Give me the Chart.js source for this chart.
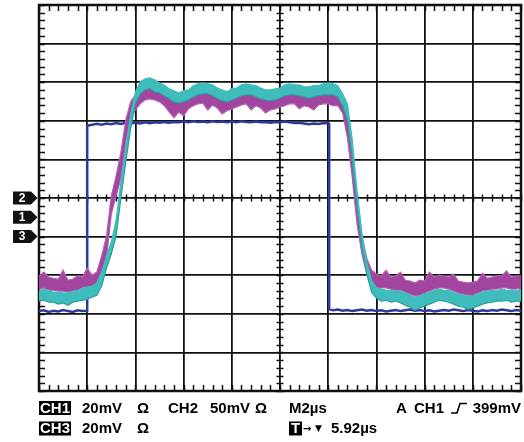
<!DOCTYPE html>
<html>
<head>
<meta charset="utf-8">
<script src="https://cdn.jsdelivr.net/npm/chart.js@4.4.1/dist/chart.umd.min.js"></script>
<style>
  html, body { margin: 0; padding: 0; background: #fff; }
  #wrap { width: 524px; height: 442px; position: relative; }
  canvas { display: block; }
</style>
</head>
<body>
<div id="wrap"><canvas id="scope" width="524" height="442"></canvas></div>
<script>
// Sample times (µs) for CH1 / CH2, 0.2 µs apart across 10 divisions of 2 µs
const sampleTimesUs = [
  0, 0.2, 0.4, 0.6, 0.8, 1, 1.2, 1.4, 1.6, 1.8,
  2, 2.2, 2.4, 2.6, 2.8, 3, 3.2, 3.4, 3.6, 3.8,
  4, 4.2, 4.4, 4.6, 4.8, 5, 5.2, 5.4, 5.6, 5.8,
  6, 6.2, 6.4, 6.6, 6.8, 7, 7.2, 7.4, 7.6, 7.8,
  8, 8.2, 8.4, 8.6, 8.8, 9, 9.2, 9.4, 9.6, 9.8,
  10, 10.2, 10.4, 10.6, 10.8, 11, 11.2, 11.4, 11.6, 11.8,
  12, 12.2, 12.4, 12.6, 12.8, 13, 13.2, 13.4, 13.6, 13.8,
  14, 14.2, 14.4, 14.6, 14.8, 15, 15.2, 15.4, 15.6, 15.8,
  16, 16.2, 16.4, 16.6, 16.8, 17, 17.2, 17.4, 17.6, 17.8,
  18, 18.2, 18.4, 18.6, 18.8, 19, 19.2, 19.4, 19.6, 19.8,
  20
];

// CH1 (magenta) noise envelope, screen divisions from centre
const ch1Upper = [
  -2.02, -1.92, -2.05, -2.08, -2.10, -1.87, -2.13, -2.10, -2.02, -2.05,
  -1.82, -2.00, -1.92, -1.50, -0.99, 0.05, 0.57, 1.19, 2.02, 2.49,
  2.67, 2.80, 2.88, 2.91, 2.88, 2.83, 2.75, 2.67, 2.59, 2.57,
  2.59, 2.65, 2.72, 2.78, 2.80, 2.80, 2.75, 2.67, 2.62, 2.59,
  2.65, 2.70, 2.75, 2.78, 2.78, 2.72, 2.67, 2.65, 2.62, 2.65,
  2.70, 2.75, 2.78, 2.80, 2.75, 2.72, 2.70, 2.72, 2.75, 2.78,
  2.78, 2.80, 2.72, 2.57, 2.08, 1.04, -0.18, -0.99, -1.56, -1.87,
  -1.97, -2.02, -1.87, -2.05, -2.02, -1.92, -2.13, -2.15, -2.20, -2.13,
  -2.15, -1.92, -2.05, -2.00, -2.02, -2.05, -1.97, -2.15, -2.18, -2.20,
  -2.18, -2.15, -1.95, -2.08, -2.05, -2.02, -2.02, -1.89, -2.05, -2.02,
  -2.02
];
const ch1Lower = [
  -2.36, -2.33, -2.39, -2.39, -2.41, -2.41, -2.44, -2.41, -2.39, -2.36,
  -2.33, -2.31, -2.28, -1.97, -1.56, -0.42, 0.05, 0.52, 1.45, 2.08,
  2.28, 2.44, 2.54, 2.57, 2.54, 2.49, 2.39, 2.23, 2.08, 2.23,
  2.13, 2.31, 2.39, 2.44, 2.46, 2.28, 2.41, 2.33, 2.18, 2.26,
  2.31, 2.36, 2.41, 2.44, 2.28, 2.39, 2.33, 2.20, 2.28, 2.31,
  2.36, 2.39, 2.44, 2.44, 2.31, 2.39, 2.36, 2.28, 2.41, 2.44,
  2.44, 2.39, 2.39, 2.20, 1.56, 0.52, -0.70, -1.45, -1.97, -2.23,
  -2.33, -2.33, -2.33, -2.36, -2.39, -2.39, -2.44, -2.49, -2.54, -2.52,
  -2.46, -2.41, -2.36, -2.33, -2.33, -2.36, -2.41, -2.46, -2.49, -2.52,
  -2.52, -2.46, -2.41, -2.39, -2.36, -2.36, -2.33, -2.33, -2.36, -2.36,
  -2.33
];

// CH2 (cyan) noise envelope, screen divisions from centre
const ch2Upper = [
  -2.41, -2.36, -2.39, -2.44, -2.44, -2.46, -2.46, -2.41, -2.41, -2.33,
  -2.31, -2.28, -2.20, -1.92, -1.50, -1.14, -0.57, 0.42, 1.30, 2.15,
  2.75, 3.01, 3.09, 3.11, 3.06, 2.98, 2.93, 2.83, 2.78, 2.72,
  2.78, 2.80, 2.91, 2.96, 2.98, 2.96, 2.93, 2.85, 2.80, 2.75,
  2.83, 2.85, 2.93, 2.96, 2.93, 2.91, 2.85, 2.80, 2.80, 2.83,
  2.85, 2.93, 2.96, 2.93, 2.93, 2.88, 2.88, 2.91, 2.91, 2.96,
  2.98, 2.96, 2.91, 2.70, 2.44, 1.50, 0.16, -0.91, -1.66, -2.13,
  -2.33, -2.36, -2.39, -2.39, -2.41, -2.41, -2.46, -2.52, -2.57, -2.54,
  -2.49, -2.44, -2.39, -2.36, -2.39, -2.39, -2.44, -2.49, -2.52, -2.54,
  -2.54, -2.49, -2.44, -2.41, -2.39, -2.41, -2.36, -2.39, -2.39, -2.41,
  -2.36
];
const ch2Lower = [
  -2.67, -2.65, -2.70, -2.70, -2.75, -2.72, -2.78, -2.70, -2.67, -2.65,
  -2.62, -2.57, -2.52, -2.28, -1.82, -1.45, -0.99, 0.00, 0.93, 1.79,
  2.44, 2.70, 2.80, 2.83, 2.75, 2.72, 2.65, 2.57, 2.49, 2.46,
  2.49, 2.54, 2.62, 2.67, 2.70, 2.70, 2.65, 2.57, 2.52, 2.49,
  2.54, 2.59, 2.65, 2.67, 2.67, 2.62, 2.57, 2.54, 2.52, 2.54,
  2.59, 2.65, 2.67, 2.67, 2.65, 2.62, 2.59, 2.62, 2.65, 2.67,
  2.67, 2.67, 2.62, 2.39, 2.02, 0.99, -0.26, -1.27, -1.97, -2.44,
  -2.59, -2.67, -2.65, -2.70, -2.67, -2.72, -2.78, -2.83, -2.91, -2.85,
  -2.80, -2.75, -2.70, -2.65, -2.67, -2.70, -2.75, -2.80, -2.83, -2.88,
  -2.85, -2.80, -2.75, -2.72, -2.70, -2.67, -2.67, -2.65, -2.70, -2.67,
  -2.67
];

// CH3 (blue) pulse: times (µs) and levels (divisions), edges at 2.0 µs and 12.04 µs
const ch3TimesUs = [
  0, 0.2, 0.4, 0.6, 0.8, 1, 1.2, 1.4, 1.6, 1.8, 2,
  2, 2.2, 2.4, 2.6, 2.8, 3, 3.2, 3.4, 3.6, 3.8,
  4, 4.2, 4.4, 4.6, 4.8, 5, 5.2, 5.4, 5.6, 5.8,
  6, 6.2, 6.4, 6.6, 6.8, 7, 7.2, 7.4, 7.6, 7.8,
  8, 8.2, 8.4, 8.6, 8.8, 9, 9.2, 9.4, 9.6, 9.8,
  10, 10.2, 10.4, 10.6, 10.8, 11, 11.2, 11.4, 11.6, 11.8,
  12, 12.04,
  12.04, 12.2, 12.4, 12.6, 12.8, 13, 13.2, 13.4, 13.6, 13.8,
  14, 14.2, 14.4, 14.6, 14.8, 15, 15.2, 15.4, 15.6, 15.8,
  16, 16.2, 16.4, 16.6, 16.8, 17, 17.2, 17.4, 17.6, 17.8,
  18, 18.2, 18.4, 18.6, 18.8, 19, 19.2, 19.4, 19.6, 19.8, 20
];
const ch3Level = [
  -2.93, -2.91, -2.95, -2.92, -2.94, -2.90, -2.93, -2.95, -2.91, -2.93, -2.92,
  1.87, 1.90, 1.92, 1.90, 1.93, 1.91, 1.94, 1.92, 1.95, 1.93,
  1.95, 1.93, 1.96, 1.94, 1.96, 1.95, 1.97, 1.95, 1.97, 1.96,
  1.98, 1.96, 1.99, 1.97, 1.98, 1.96, 1.99, 1.97, 1.98, 1.96,
  1.98, 1.96, 1.99, 1.97, 1.96, 1.98, 1.96, 1.97, 1.95, 1.97,
  1.96, 1.98, 1.96, 1.94, 1.95, 1.93, 1.91, 1.93, 1.92, 1.94,
  1.93, 1.92,
  -2.88, -2.91, -2.89, -2.92, -2.90, -2.93, -2.91, -2.89, -2.92, -2.90,
  -2.93, -2.91, -2.94, -2.92, -2.90, -2.93, -2.91, -2.89, -2.92, -2.90,
  -2.93, -2.91, -2.94, -2.92, -2.90, -2.92, -2.89, -2.91, -2.93, -2.90,
  -2.92, -2.94, -2.91, -2.93, -2.90, -2.92, -2.89, -2.91, -2.93, -2.90, -2.92
];

// Ground-level markers on the left edge (label, level in divisions)
const markerLabels = ['2', '1', '3'];
const markerLevels = [0, -0.5, -1.0];

// Readout lines under the graticule
const readoutRow1 = ['CH1', '20mV', 'Ω', 'CH2', '50mV', 'Ω', 'M2µs', 'A', 'CH1', '399mV'];
const readoutRow2 = ['CH3', '20mV', 'Ω', 'T', '→', '▼', '5.92µs'];

const pair = (xs, ys) => xs.map((t, i) => ({ x: t, y: ys[i] }));

const COL_CH1 = '#a2459e';
const COL_CH1_EDGE = '#b55fb1';
const COL_CH2 = '#3fbdbc';
const COL_CH2_EDGE = '#2f9d9f';
const COL_CH3 = '#2d3a9b';

const scopeOverlay = {
  id: 'scopeOverlay',
  beforeDatasetsDraw(chart) {
    const { ctx, chartArea: a, scales: { x, y } } = chart;
    const xMid = x.getPixelForValue(10);
    const yMid = y.getPixelForValue(0);
    ctx.save();
    ctx.strokeStyle = '#111';
    ctx.lineWidth = 1.5;
    ctx.beginPath();
    // minor ticks: 5 per horizontal division
    for (let k = 0; k <= 50; k++) {
      const px = Math.round(x.getPixelForValue(k * 0.4)) + 0.5;
      ctx.moveTo(px, a.top); ctx.lineTo(px, a.top + 6);
      ctx.moveTo(px, a.bottom); ctx.lineTo(px, a.bottom - 6);
      ctx.moveTo(px, yMid - 3.5); ctx.lineTo(px, yMid + 3.5);
    }
    // minor ticks: 5 per vertical division
    for (let k = 0; k <= 50; k++) {
      const py = Math.round(y.getPixelForValue(-5 + k * 0.2)) + 0.5;
      ctx.moveTo(a.left, py); ctx.lineTo(a.left + 6, py);
      ctx.moveTo(a.right, py); ctx.lineTo(a.right - 6, py);
      ctx.moveTo(xMid - 3.5, py); ctx.lineTo(xMid + 3.5, py);
    }
    ctx.stroke();
    ctx.lineWidth = 2.5;
    ctx.strokeRect(a.left, a.top, a.right - a.left, a.bottom - a.top);
    ctx.restore();
  },
  afterDraw(chart) {
    const { ctx, scales: { y } } = chart;
    ctx.save();
    // channel ground markers
    markerLabels.forEach((lab, i) => {
      const py = y.getPixelForValue(markerLevels[i]);
      ctx.fillStyle = '#111';
      ctx.beginPath();
      ctx.moveTo(13, py - 6.5);
      ctx.lineTo(31, py - 6.5);
      ctx.lineTo(37.5, py);
      ctx.lineTo(31, py + 6.5);
      ctx.lineTo(13, py + 6.5);
      ctx.closePath();
      ctx.fill();
      ctx.fillStyle = '#fff';
      ctx.font = 'bold 12px "Liberation Sans", Arial, sans-serif';
      ctx.textAlign = 'center';
      ctx.textBaseline = 'middle';
      ctx.fillText(lab, 22, py + 0.5);
    });

    const font = 'bold 15px "Liberation Sans", Arial, sans-serif';
    const boxed = (txt, x0, w, cy) => {
      ctx.fillStyle = '#000';
      ctx.fillRect(x0, cy - 7, w, 14);
      ctx.fillStyle = '#fff';
      ctx.font = font;
      ctx.textAlign = 'center';
      ctx.textBaseline = 'middle';
      ctx.fillText(txt, x0 + w / 2, cy + 0.5);
    };
    const plain = (txt, x0, cy, f) => {
      ctx.fillStyle = '#000';
      ctx.font = f || font;
      ctx.textAlign = 'left';
      ctx.textBaseline = 'middle';
      ctx.fillText(txt, x0, cy + 0.5);
    };

    const r1 = 408, r2 = 428.5;
    boxed(readoutRow1[0], 39, 32, r1);
    plain(readoutRow1[1], 82, r1);
    plain(readoutRow1[2], 137, r1);
    plain(readoutRow1[3], 168, r1);
    plain(readoutRow1[4], 210, r1);
    plain(readoutRow1[5], 255, r1);
    plain(readoutRow1[6], 289, r1);
    plain(readoutRow1[7], 396, r1);
    plain(readoutRow1[8], 414, r1);
    ctx.textAlign = 'left';
    // rising-edge trigger symbol
    ctx.strokeStyle = '#000';
    ctx.lineWidth = 1.6;
    ctx.beginPath();
    ctx.moveTo(451, r1 + 5);
    ctx.lineTo(457, r1 + 5);
    ctx.lineTo(460, r1 - 4.5);
    ctx.lineTo(467, r1 - 4.5);
    ctx.stroke();
    ctx.font = font;
    ctx.fillStyle = '#000';
    ctx.textAlign = 'right';
    ctx.textBaseline = 'middle';
    ctx.fillText(readoutRow1[9], 521, r1 + 0.5);

    boxed(readoutRow2[0], 39, 32, r2);
    plain(readoutRow2[1], 82, r2);
    plain(readoutRow2[2], 137, r2);
    boxed(readoutRow2[3], 289, 13, r2);
    plain(readoutRow2[4], 303, r2, 'bold 10px "DejaVu Sans", sans-serif');
    plain(readoutRow2[5], 315, r2, 'bold 9px "DejaVu Sans", sans-serif');
    plain(readoutRow2[6], 331, r2);
    ctx.restore();
  }
};

new Chart(document.getElementById('scope'), {
  type: 'line',
  data: {
    datasets: [
      { label: 'CH1 upper', data: pair(sampleTimesUs, ch1Upper), borderColor: COL_CH1_EDGE, borderWidth: 1.2, fill: false, order: 2 },
      { label: 'CH1 lower', data: pair(sampleTimesUs, ch1Lower), borderColor: COL_CH1_EDGE, borderWidth: 1.2, backgroundColor: COL_CH1, fill: 0, order: 2 },
      { label: 'CH2 upper', data: pair(sampleTimesUs, ch2Upper), borderColor: COL_CH2, borderWidth: 1.2, fill: false, order: 1 },
      { label: 'CH2 lower', data: pair(sampleTimesUs, ch2Lower), borderColor: COL_CH2_EDGE, borderWidth: 1.2, backgroundColor: COL_CH2, fill: 2, order: 1 },
      { label: 'CH3', data: pair(ch3TimesUs, ch3Level), borderColor: COL_CH3, borderWidth: 2.5, fill: false, order: 3 }
    ]
  },
  options: {
    responsive: false,
    animation: false,
    layout: { padding: { left: 39, right: 3, top: 5, bottom: 51 } },
    elements: { point: { radius: 0, hoverRadius: 0 }, line: { tension: 0 } },
    plugins: { legend: { display: false }, tooltip: { enabled: false } },
    events: [],
    scales: {
      x: {
        type: 'linear', min: 0, max: 20,
        ticks: { display: false, stepSize: 2 },
        grid: { color: '#111', lineWidth: 1.8, drawTicks: false },
        border: { display: false }
      },
      y: {
        type: 'linear', min: -5, max: 5,
        ticks: { display: false, stepSize: 1 },
        grid: { color: '#111', lineWidth: 1.8, drawTicks: false },
        border: { display: false }
      }
    }
  },
  plugins: [scopeOverlay]
});
</script>
</body>
</html>
